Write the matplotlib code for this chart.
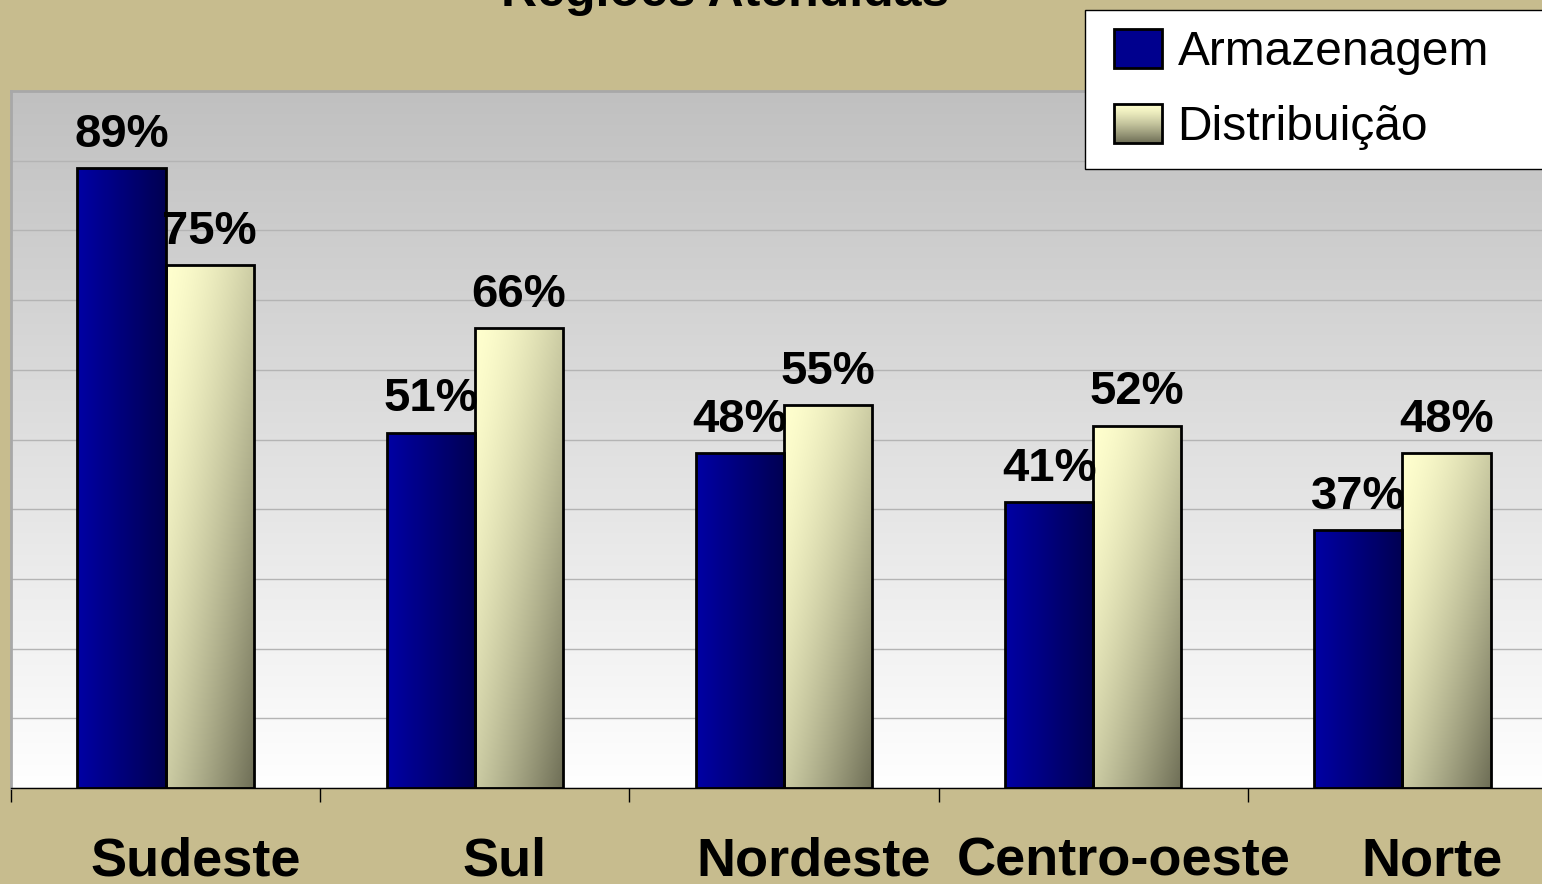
import numpy as np
import matplotlib
matplotlib.use("Agg")
import matplotlib.pyplot as plt
from matplotlib.patches import Rectangle, Patch
from matplotlib.legend_handler import HandlerBase
from matplotlib.image import BboxImage
from matplotlib.transforms import Bbox, TransformedBbox, ScaledTranslation

# dados
regioes = ["Sudeste", "Sul", "Nordeste", "Centro-oeste", "Norte"]
armazenagem = [89, 51, 48, 41, 37]
distribuicao = [75, 66, 55, 52, 48]
series_nomes = ["Armazenagem", "Distribuição"]
titulo = "Regiões Atendidas"

plt.rcParams["font.family"] = ["Liberation Sans", "DejaVu Sans"]

FUNDO = "#C7BC8E"
AZUL_CLARO = np.array([0x00, 0x00, 0xA4]) / 255
AZUL_ESCURO = np.array([0x00, 0x00, 0x52]) / 255
BEGE_CLARO = np.array([0xFF, 0xFF, 0xCE]) / 255
BEGE_ESCURO = np.array([0x6E, 0x6E, 0x56]) / 255


def blend(c1, c2, t):
    t = t[..., None]
    return c1 * (1 - t) + c2 * t


def grad_azul(n=64):
    u = np.linspace(0, 1, n)[None, :].repeat(n, axis=0)
    return blend(AZUL_CLARO, AZUL_ESCURO, u)


def grad_bege(n=64):
    u, v = np.meshgrid(np.linspace(0, 1, n), np.linspace(0, 1, n))
    t = ((u + (1 - v)) / 2) ** 1.5
    return blend(BEGE_CLARO, BEGE_ESCURO, t)


def grad_bege_vertical(n=64):
    v = np.linspace(0, 1, n)[:, None].repeat(n, axis=1)
    return blend(BEGE_CLARO, BEGE_ESCURO, v ** 1.3)


def solid(color, n=4):
    return np.array(matplotlib.colors.to_rgb(color))[None, None, :].repeat(n, 0).repeat(n, 1)


class ImageHandler(HandlerBase):
    # quadrado da legenda com imagem, deslocado um pouco para a direita
    def __init__(self, img, shift=7.0):
        super().__init__()
        self.img = img
        self.shift = shift

    def create_artists(self, legend, orig_handle, xdescent, ydescent,
                       width, height, fontsize, trans):
        x0 = -xdescent + self.shift
        bb = Bbox.from_bounds(x0, -ydescent, width - self.shift, height)
        im = BboxImage(TransformedBbox(bb, trans), interpolation="bilinear", origin="upper")
        im.set_data(self.img)
        rect = Rectangle((x0, -ydescent), width - self.shift, height, facecolor="none",
                         edgecolor="black", linewidth=2, transform=trans)
        return [im, rect]


fig = plt.figure(figsize=(15.42, 8.84), dpi=100, facecolor=FUNDO)
ax = fig.add_axes([11 / 1542, 1 - 788 / 884, 1546 / 1542, 697 / 884])

x = np.arange(len(regioes))
w = 0.285

# fundo da area do grafico: cinza em cima, branco em baixo
bg = np.linspace(1.0, 0.753, 256)[:, None, None].repeat(4, axis=1).repeat(3, axis=2)
ax.imshow(bg, extent=[0, 1, 0, 1], transform=ax.transAxes, aspect="auto",
          origin="lower", zorder=0.1, interpolation="bilinear")

b1 = ax.bar(x - w / 2, armazenagem, w, facecolor="none", edgecolor="black",
            linewidth=2, zorder=3, label=series_nomes[0])
b2 = ax.bar(x + w / 2, distribuicao, w, facecolor="none", edgecolor="black",
            linewidth=2, zorder=3, label=series_nomes[1])

for bars, img in [(b1, grad_azul()), (b2, grad_bege())]:
    for bar in bars:
        x0, y0 = bar.get_x(), bar.get_y()
        im = ax.imshow(img, extent=[x0, x0 + bar.get_width(), y0, y0 + bar.get_height()],
                       aspect="auto", origin="lower", zorder=2.5, interpolation="bilinear")
        im.set_clip_path(bar)

for bars in (b1, b2):
    ax.bar_label(bars, labels=[f"{v}%" for v in bars.datavalues], padding=8,
                 fontsize=34, fontweight="bold", zorder=4)

ax.set_xlim(-0.5, len(regioes) - 0.5)
ax.set_ylim(0, 100)

ax.set_yticks(range(0, 101, 10))
ax.tick_params(axis="y", length=0, labelleft=False)
ax.yaxis.grid(True, color="#B4B4B4", linewidth=1, zorder=1)
ax.set_axisbelow(True)

ax.set_xticks(np.arange(-0.5, len(regioes), 1.0))
ax.set_xticklabels([])
ax.set_xticks(x, minor=True)
ax.set_xticklabels(regioes, minor=True, fontsize=39, fontweight="bold")
ax.tick_params(axis="x", which="major", length=10, width=1, color="black")
ax.tick_params(axis="x", which="minor", length=0, pad=35)
for lbl in ax.get_xticklabels(minor=True):
    lbl.set_transform(lbl.get_transform() + ScaledTranslation(0.30, 0, fig.dpi_scale_trans))

for s in ("top", "left"):
    ax.spines[s].set_color("#A8A8A8")
    ax.spines[s].set_linewidth(2)
ax.spines["right"].set_visible(False)
ax.spines["bottom"].set_color("black")
ax.spines["bottom"].set_linewidth(1)

fig.text(725 / 1542, 1 - 6 / 884, titulo, ha="center", va="baseline",
         fontsize=36, fontweight="bold")

h1 = Patch(facecolor="#00008E")
h2 = Patch(facecolor="none")
leg = fig.legend([h1, h2], series_nomes, loc="upper left",
                 bbox_to_anchor=(1085 / 1542, 1 - 168 / 884, 0.4, 158 / 884),
                 bbox_transform=fig.transFigure, mode="expand", borderaxespad=0,
                 fontsize=34.5, handlelength=1.21, handleheight=0.87, handletextpad=0.32,
                 borderpad=0.4, labelspacing=0.6, fancybox=False, framealpha=1,
                 handler_map={h1: ImageHandler(solid("#00008E")),
                              h2: ImageHandler(grad_bege_vertical())})
leg.get_frame().set_edgecolor("black")
leg.get_frame().set_linewidth(1)

fig.savefig("out.png", dpi=100, facecolor=FUNDO)
